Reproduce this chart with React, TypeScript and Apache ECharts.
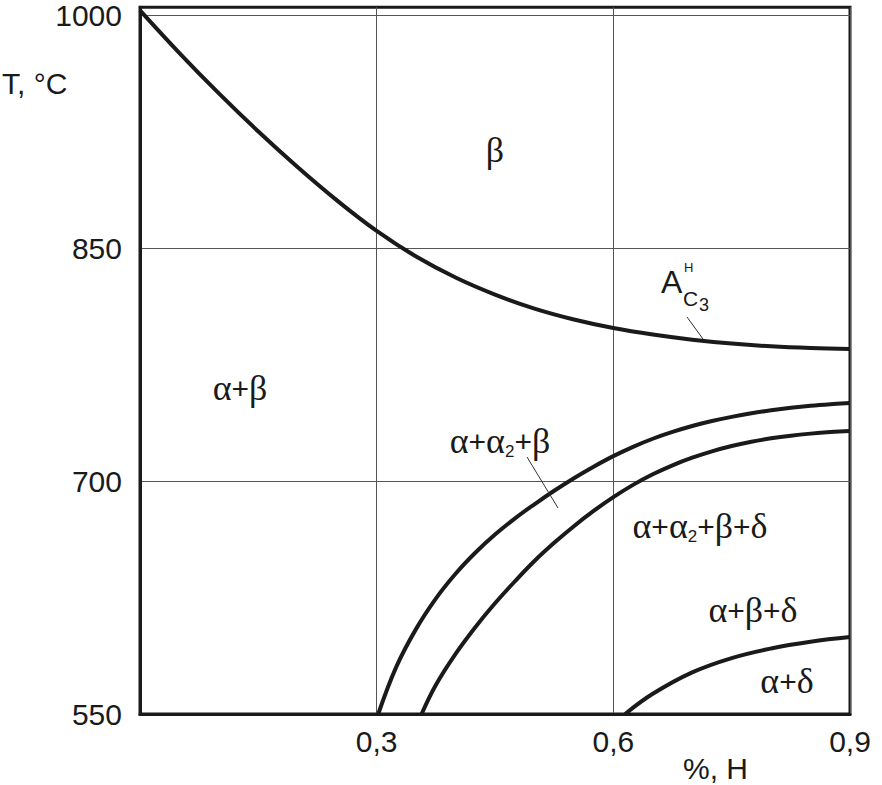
import React, { useEffect, useRef } from "react";
import * as echarts from "echarts";

// Ac3 (upper) boundary: [%H, °C]
const acLineX = [0, 0.05, 0.1, 0.15, 0.2, 0.25, 0.3, 0.35, 0.4, 0.45, 0.5, 0.55, 0.6, 0.65, 0.7, 0.75, 0.8, 0.85, 0.9];
const acLineT = [1003, 975.5, 949.5, 925, 902, 880.5, 861, 844.5, 831, 820, 811, 804, 798.5, 794.3, 791, 788.5, 786.7, 785.6, 785];

// outer curve (α+α2+β upper boundary)
const outerX = [0.302, 0.325, 0.35, 0.375, 0.4, 0.425, 0.45, 0.475, 0.5, 0.525, 0.55, 0.575, 0.6, 0.625, 0.65, 0.675, 0.7, 0.725, 0.75, 0.775, 0.8, 0.825, 0.85, 0.875, 0.9];
const outerT = [550, 580.5, 604.8, 624.3, 640.3, 653.8, 665.5, 675.8, 685, 693.7, 701.8, 709.2, 716, 722, 727.2, 731.6, 735.4, 738.6, 741.3, 743.6, 745.5, 747.1, 748.4, 749.4, 750.2];

// inner curve (α+α2+β lower boundary)
const innerX = [0.357, 0.375, 0.4, 0.425, 0.45, 0.475, 0.5, 0.525, 0.55, 0.575, 0.6, 0.625, 0.65, 0.675, 0.7, 0.725, 0.75, 0.775, 0.8, 0.825, 0.85, 0.875, 0.9];
const innerT = [550, 568.7, 588.7, 605.9, 621.3, 635.3, 648.5, 660.2, 670.9, 680.7, 689.6, 697.5, 704.3, 710.1, 715, 719.1, 722.5, 725.3, 727.5, 729.2, 730.5, 731.5, 732.2];

// α+δ boundary (lowest curve)
const lowX = [0.615, 0.65, 0.7, 0.75, 0.8, 0.85, 0.9];
const lowT = [550, 563, 576.8, 586, 592.2, 596.5, 599.5];

const yTicks = [550, 700, 850, 1000];
const xTicks = [0.3, 0.6, 0.9];

const zip = (xs: number[], ys: number[]) => xs.map((x, i) => [x, ys[i]]);

const INK = "#1a1a1a";
const SANS = '"Liberation Sans", Arial, sans-serif';
const SERIF = '"Liberation Serif", "Times New Roman", serif';

export default function App() {
  const ref = useRef<HTMLDivElement>(null);
  useEffect(() => {
    if (!ref.current) return;
    const chart = echarts.init(ref.current, null, { renderer: "svg" });
    const lineSeries = (name: string, xs: number[], ys: number[]) => ({
      name,
      type: "line",
      data: zip(xs, ys),
      showSymbol: false,
      symbol: "none",
      smooth: 0.4,
      clip: true,
      lineStyle: { color: INK, width: 4 },
      z: 5,
    });
    const greek = { fontFamily: SERIF, fontSize: 36, color: INK };
    const sub = { fontFamily: SANS, fontSize: 17, color: INK, padding: [20, 0, 0, 0] };
    const plus = { fontFamily: SANS, fontSize: 30, color: INK };
    const rich = { g: greek, s: sub, p: plus };
    const label = (text: string, x: number, y: number) => ({
      type: "text",
      x,
      y,
      z: 10,
      style: {
        text,
        rich,
        textAlign: "center",
        textVerticalAlign: "middle",
        fill: INK,
      },
    });
    chart.setOption({
      animation: false,
      backgroundColor: "#ffffff",
      grid: {
        left: 140,
        top: 4,
        width: 710,
        height: 710,
        show: true,
        borderColor: INK,
        borderWidth: 3,
        backgroundColor: "transparent",
      },
      xAxis: {
        type: "value",
        min: 0,
        max: 0.9,
        interval: 0.3,
        axisLine: { show: true, lineStyle: { color: INK, width: 3 } },
        axisTick: { show: false },
        splitLine: { show: true, lineStyle: { color: "#555", width: 1 } },
        axisLabel: {
          margin: 12,
          fontFamily: SANS,
          fontSize: 30,
          color: INK,
          formatter: (v: number) =>
            xTicks.some((t) => Math.abs(t - v) < 1e-6) ? v.toFixed(1).replace(".", ",") : "",
        },
      },
      yAxis: {
        type: "value",
        min: 550,
        max: 1005,
        axisLine: { show: true, lineStyle: { color: INK, width: 3 } },
        axisTick: { show: false, customValues: yTicks },
        splitLine: { show: true, lineStyle: { color: "#555", width: 1 } },
        axisLabel: {
          customValues: yTicks,
          margin: 18,
          fontFamily: SANS,
          fontSize: 30,
          color: INK,
          formatter: (v: number) => String(v),
        },
      },
      series: [
        lineSeries("Ac3", acLineX, acLineT),
        lineSeries("outer", outerX, outerT),
        lineSeries("inner", innerX, innerT),
        lineSeries("low", lowX, lowT),
      ],
      graphic: [
        {
          type: "text",
          x: 2,
          y: 83,
          style: { text: "T, °C", font: `30px ${SANS}`, fill: INK, textAlign: "left", textVerticalAlign: "middle" },
        },
        {
          type: "text",
          x: 683,
          y: 768,
          style: { text: "%, H", font: `30px ${SANS}`, fill: INK, textAlign: "left", textVerticalAlign: "middle" },
        },
        label("{g|β}", 495, 150),
        label("{g|α}{p|+}{g|β}", 240, 388),
        label("{g|α}{p|+}{g|α}{s|2}{p|+}{g|β}", 500, 441),
        label("{g|α}{p|+}{g|α}{s|2}{p|+}{g|β}{p|+}{g|δ}", 700, 526),
        label("{g|α}{p|+}{g|β}{p|+}{g|δ}", 753, 610),
        label("{g|α}{p|+}{g|δ}", 787, 681),
        // A_C3^H
        {
          type: "text",
          x: 661,
          y: 282,
          z: 10,
          style: { text: "A", font: `32px ${SANS}`, fill: INK, textAlign: "left", textVerticalAlign: "middle" },
        },
        {
          type: "text",
          x: 683,
          y: 298,
          z: 10,
          style: { text: "C", font: `21px ${SANS}`, fill: INK, textAlign: "left", textVerticalAlign: "middle" },
        },
        {
          type: "text",
          x: 699,
          y: 305,
          z: 10,
          style: { text: "3", font: `18px ${SANS}`, fill: INK, textAlign: "left", textVerticalAlign: "middle" },
        },
        {
          type: "text",
          x: 684,
          y: 267,
          z: 10,
          style: { text: "H", font: `13px ${SANS}`, fill: INK, textAlign: "left", textVerticalAlign: "middle" },
        },
        {
          type: "line",
          z: 10,
          shape: { x1: 687, y1: 317, x2: 703, y2: 339 },
          style: { stroke: "#333", lineWidth: 1 },
        },
        {
          type: "line",
          z: 10,
          shape: { x1: 527, y1: 457, x2: 558, y2: 508 },
          style: { stroke: "#333", lineWidth: 1 },
        },
      ],
    });
    return () => chart.dispose();
  }, []);
  return (
    <div
      ref={ref}
      style={{ position: "fixed", left: 0, top: 0, width: 882, height: 785, background: "#fff" }}
    />
  );
}
